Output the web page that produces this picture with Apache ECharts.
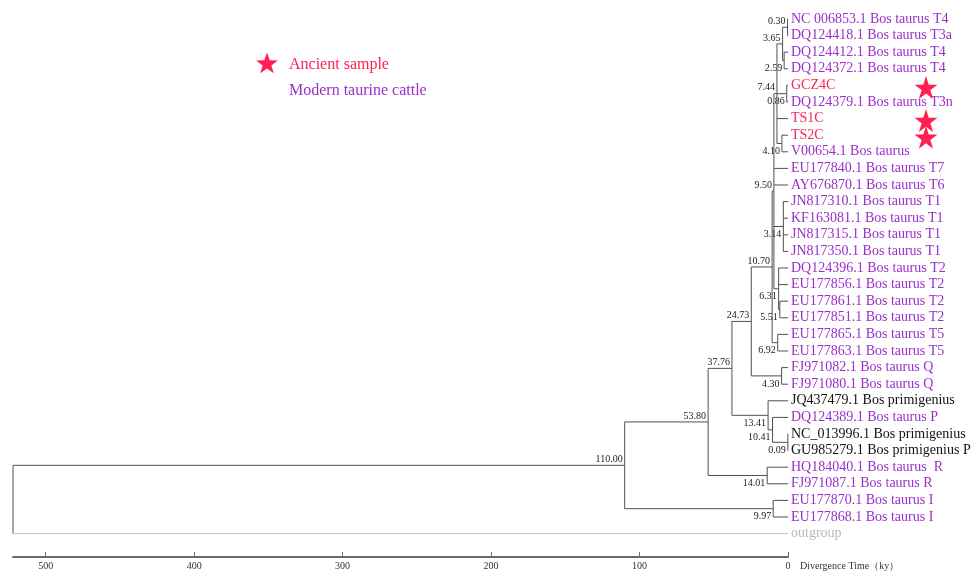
<!DOCTYPE html>
<html>
<head>
<meta charset="utf-8">
<script src="https://cdn.jsdelivr.net/npm/echarts@6/dist/echarts.min.js"></script>
<style>
  html, body { margin: 0; padding: 0; background: #ffffff; }
  #chart { width: 971px; height: 573px; }
</style>
</head>
<body>
<div id="chart"></div>
<script>
// ---- Tree data -------------------------------------------------------------
// Leaves, top to bottom
const leafNames = [
  'NC 006853.1 Bos taurus T4',
  'DQ124418.1 Bos taurus T3a',
  'DQ124412.1 Bos taurus T4',
  'DQ124372.1 Bos taurus T4',
  'GCZ4C',
  'DQ124379.1 Bos taurus T3n',
  'TS1C',
  'TS2C',
  'V00654.1 Bos taurus',
  'EU177840.1 Bos taurus T7',
  'AY676870.1 Bos taurus T6',
  'JN817310.1 Bos taurus T1',
  'KF163081.1 Bos taurus T1',
  'JN817315.1 Bos taurus T1',
  'JN817350.1 Bos taurus T1',
  'DQ124396.1 Bos taurus T2',
  'EU177856.1 Bos taurus T2',
  'EU177861.1 Bos taurus T2',
  'EU177851.1 Bos taurus T2',
  'EU177865.1 Bos taurus T5',
  'EU177863.1 Bos taurus T5',
  'FJ971082.1 Bos taurus Q',
  'FJ971080.1 Bos taurus Q',
  'JQ437479.1 Bos primigenius',
  'DQ124389.1 Bos taurus P',
  'NC_013996.1 Bos primigenius',
  'GU985279.1 Bos primigenius P',
  'HQ184040.1 Bos taurus  R',
  'FJ971087.1 Bos taurus R',
  'EU177870.1 Bos taurus I',
  'EU177868.1 Bos taurus I',
  'outgroup'
];

// Sample type of each leaf
const leafGroups = [
  'modern', 'modern', 'modern', 'modern', 'ancient', 'modern', 'ancient', 'ancient',
  'modern', 'modern', 'modern', 'modern', 'modern', 'modern', 'modern', 'modern',
  'modern', 'modern', 'modern', 'modern', 'modern', 'modern', 'modern', 'primigenius',
  'modern', 'primigenius', 'primigenius', 'modern', 'modern', 'modern', 'modern', 'outgroup'
];

// Internal nodes (children listed before parents): divergence time in ky
const nodeAges = [
  0.30, 2.59, 3.65, 0.86, 4.10, 7.44, 3.14, 5.51, 6.31, 9.50, 6.92, 10.70,
  4.30, 24.73, 0.09, 10.41, 13.41, 37.76, 14.01, 53.80, 9.97, 110.00, 522
];

// Children of each internal node: 'L#' = leaf index, 'N#' = internal node index
const nodeChildren = [
  ['L0', 'L1'],
  ['L2', 'L3'],
  ['N0', 'N1'],
  ['L4', 'L5'],
  ['L7', 'L8'],
  ['N2', 'N3', 'L6', 'N4'],
  ['L11', 'L12', 'L13', 'L14'],
  ['L17', 'L18'],
  ['L15', 'L16', 'N7'],
  ['N5', 'L9', 'L10', 'N6', 'N8'],
  ['L19', 'L20'],
  ['N9', 'N10'],
  ['L21', 'L22'],
  ['N11', 'N12'],
  ['L25', 'L26'],
  ['L24', 'N14'],
  ['L23', 'N15'],
  ['N13', 'N16'],
  ['L27', 'L28'],
  ['N17', 'N18'],
  ['L29', 'L30'],
  ['N19', 'N20'],
  ['N21', 'L31']
];

// Printed node times (the root carries none)
const nodeLabelText = [
  '0.30', '2.59', '3.65', '0.86', '4.10', '7.44', '3.14', '5.51', '6.31', '9.50', '6.92', '10.70',
  '4.30', '24.73', '0.09', '10.41', '13.41', '37.76', '14.01', '53.80', '9.97', '110.00', ''
];

const axisTickValues = [0, 100, 200, 300, 400, 500];

// ---- Styles ----------------------------------------------------------------
const SERIF = '"Liberation Serif", "Times New Roman", serif';
const groupColor = {
  modern: '#9a2fc9',
  ancient: '#ff1f50',
  primigenius: '#111111',
  outgroup: '#b9b9b9'
};
const branchColor = '#505050';
const outgroupBranchColor = '#c4c4c4';
const starPath = 'path://M50,0 L61.2,34.5 L97.6,34.5 L68.2,55.9 L79.4,90.5 L50,69.1 L20.6,90.5 L31.8,55.9 L2.4,34.5 L38.8,34.5 Z';

// ---- Layout in data space (age, row) ----------------------------------------
function parseRef(ref) {
  return { leaf: ref[0] === 'L', idx: parseInt(ref.slice(1), 10) };
}
const nodeRow = [];
function refRow(ref) {
  const r = parseRef(ref);
  return r.leaf ? r.idx : nodeRow[r.idx];
}
function refAge(ref) {
  const r = parseRef(ref);
  return r.leaf ? 0 : nodeAges[r.idx];
}
nodeChildren.forEach((kids, i) => {
  nodeRow[i] = (refRow(kids[0]) + refRow(kids[kids.length - 1])) / 2;
});
// first child of its parent gets its time printed above the branch
const labelAbove = nodeAges.map(() => false);
nodeChildren.forEach(kids => {
  const r = parseRef(kids[0]);
  if (!r.leaf) labelAbove[r.idx] = true;
});

// ---- Chart -----------------------------------------------------------------
const chart = echarts.init(document.getElementById('chart'), null, { renderer: 'canvas' });

function starPoints(cx, cy, R) {
  const pts = [];
  for (let k = 0; k < 10; k++) {
    const rr = k % 2 === 0 ? R : R * 0.4;
    const a = -Math.PI / 2 + k * Math.PI / 5;
    pts.push([cx + rr * Math.cos(a), cy + rr * Math.sin(a)]);
  }
  return pts;
}

const option = {
  backgroundColor: '#ffffff',
  animation: false,
  grid: { left: 13, right: 183, top: 19, bottom: 16 },
  xAxis: {
    type: 'value',
    inverse: true,
    min: 0,
    max: 522,
    position: 'bottom',
    name: 'Divergence Time（ky）',
    nameLocation: 'start',
    nameGap: 12,
    nameTextStyle: { fontFamily: SERIF, fontSize: 10, color: '#333', verticalAlign: 'top', padding: [4, 0, 0, 0] },
    axisLine: { show: true, onZero: false, lineStyle: { color: '#6a6a6a', width: 2 } },
    axisTick: { show: true, customValues: axisTickValues, length: 5, inside: true, lineStyle: { color: '#6a6a6a', width: 1 } },
    axisLabel: { customValues: axisTickValues, fontFamily: SERIF, fontSize: 10, color: '#333', margin: 4 },
    splitLine: { show: false }
  },
  yAxis: {
    type: 'value',
    inverse: true,
    min: 0,
    max: 32.41,
    show: false
  },
  graphic: [
    {
      type: 'polygon',
      shape: { points: starPoints(267, 64, 11.5) },
      style: { fill: groupColor.ancient }
    },
    {
      type: 'text', x: 289, y: 65,
      style: { text: 'Ancient sample', fill: groupColor.ancient, font: '16px ' + SERIF, verticalAlign: 'middle' }
    },
    {
      type: 'text', x: 289, y: 91,
      style: { text: 'Modern taurine cattle', fill: groupColor.modern, font: '16px ' + SERIF, verticalAlign: 'middle' }
    }
  ],
  series: [
    {
      // branches and node times
      type: 'custom',
      coordinateSystem: 'cartesian2d',
      data: nodeAges.map((a, i) => [a, nodeRow[i], i]),
      encode: { x: 0, y: 1 },
      renderItem: function (params, api) {
        const i = api.value(2);
        const kids = nodeChildren[i];
        const age = nodeAges[i];
        const top = api.coord([age, refRow(kids[0])]);
        const bottom = api.coord([age, refRow(kids[kids.length - 1])]);
        const children = [];
        children.push({
          type: 'line',
          shape: { x1: top[0], y1: top[1], x2: bottom[0], y2: bottom[1] },
          style: { stroke: branchColor, lineWidth: 1 }
        });
        kids.forEach(k => {
          const p0 = api.coord([age, refRow(k)]);
          const p1 = api.coord([refAge(k), refRow(k)]);
          const r = parseRef(k);
          const isOut = r.leaf && leafGroups[r.idx] === 'outgroup';
          children.push({
            type: 'line',
            shape: { x1: p0[0], y1: p0[1], x2: p1[0], y2: p1[1] },
            style: { stroke: isOut ? outgroupBranchColor : branchColor, lineWidth: 1 }
          });
        });
        const txt = nodeLabelText[i];
        if (txt) {
          const p = api.coord([age, nodeRow[i]]);
          const above = labelAbove[i];
          children.push({
            type: 'text',
            x: p[0] - 2,
            y: above ? p[1] - 1 : p[1] + 3,
            style: {
              text: txt,
              fill: '#222',
              font: '10px ' + SERIF,
              align: 'right',
              verticalAlign: above ? 'bottom' : 'top'
            }
          });
        }
        return { type: 'group', children: children };
      },
      z: 2
    },
    {
      // leaf names
      type: 'custom',
      coordinateSystem: 'cartesian2d',
      data: leafNames.map((n, i) => [0, i, i]),
      encode: { x: 0, y: 1 },
      renderItem: function (params, api) {
        const i = api.value(2);
        const p = api.coord([0, i]);
        return {
          type: 'text',
          x: p[0] + 3,
          y: p[1],
          style: {
            text: leafNames[i],
            fill: groupColor[leafGroups[i]],
            font: '14px ' + SERIF,
            verticalAlign: 'middle',
            align: 'left'
          }
        };
      },
      z: 3
    },
    {
      // markers beside the ancient samples
      type: 'scatter',
      clip: false,
      data: leafGroups.map((g, i) => g === 'ancient' ? [0, i] : null).filter(d => d),
      symbol: starPath,
      symbolSize: 23,
      symbolOffset: [138, 2],
      itemStyle: { color: groupColor.ancient, opacity: 1 },
      silent: true,
      z: 4
    }
  ]
};
chart.setOption(option);
</script>
</body>
</html>
